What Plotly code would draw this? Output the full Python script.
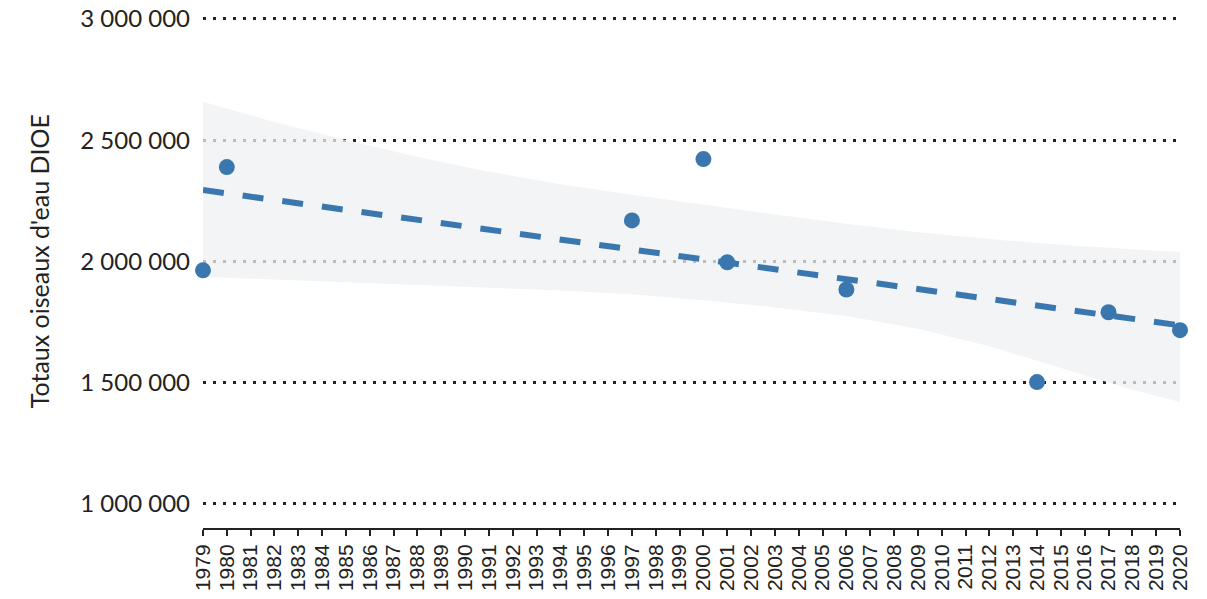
import plotly.graph_objects as go

# Observed counts (years with surveys)
obs_years = [1979, 1980, 1997, 2000, 2001, 2006, 2014, 2017, 2020]
obs_values = [1963000, 2389000, 2169000, 2422000, 1996000, 1884000, 1502000, 1790000, 1716000]

# Linear trend
trend_years = [1979, 2020]
trend_values = [2294000, 1736000]

# Confidence band
band_years = [1979, 1982, 1985, 1988, 1991, 1994, 1997, 2000, 2003, 2006, 2009, 2012, 2015, 2018, 2020]
band_upper = [2658000, 2575000, 2501000, 2430000, 2370000, 2318000, 2275000, 2233000, 2193000, 2155000, 2120000, 2092000, 2068000, 2050000, 2039000]
band_lower = [1936000, 1926000, 1915000, 1903000, 1891000, 1880000, 1864000, 1840000, 1810000, 1775000, 1722000, 1650000, 1560000, 1470000, 1420000]

# Axis ticks
x_years = list(range(1979, 2021))
y_tickvals = [1000000, 1500000, 2000000, 2500000, 3000000]
y_ticktext = ["1 000 000", "1 500 000", "2 000 000", "2 500 000", "3 000 000"]
y_title = "Totaux oiseaux d'eau DIOE"

blue = "#3a77ae"

fig = go.Figure()

fig.add_trace(go.Scatter(
    x=band_years + band_years[::-1],
    y=band_upper + band_lower[::-1],
    fill="toself",
    fillcolor="rgba(238,240,241,0.75)",
    line=dict(width=0),
    mode="lines",
    hoverinfo="skip",
    showlegend=False,
))

fig.add_trace(go.Scatter(
    x=trend_years, y=trend_values,
    mode="lines",
    line=dict(color=blue, width=6, dash="21px,19px"),
    showlegend=False,
))

fig.add_trace(go.Scatter(
    x=obs_years, y=obs_values,
    mode="markers",
    marker=dict(color=blue, size=16),
    cliponaxis=False,
    showlegend=False,
))

fig.update_layout(
    width=1207, height=599,
    margin=dict(l=203, r=27, t=17, b=71),
    plot_bgcolor="white",
    paper_bgcolor="white",
    font=dict(family="Lato", color="#222"),
    xaxis=dict(
        range=[1979, 2020],
        tickvals=x_years,
        ticktext=[str(y) for y in x_years],
        tickangle=-90,
        tickfont=dict(family="Liberation Sans", size=21, color="#222"),
        showgrid=False,
        zeroline=False,
        showline=True,
        linecolor="#222",
        linewidth=2,
        ticks="outside",
        ticklen=6,
        tickwidth=2,
        tickcolor="#222",
        automargin=False,
    ),
    yaxis=dict(
        range=[900000, 3008000],
        tickvals=y_tickvals,
        ticktext=y_ticktext,
        tickfont=dict(family="Lato", size=24, color="#222"),
        showgrid=True,
        gridcolor="#222",
        gridwidth=2.5,
        griddash="2.5px,7.5px",
        zeroline=False,
        showline=False,
        ticks="",
        ticklabelstandoff=12,
        automargin=False,
    ),
    annotations=[dict(
        text=y_title,
        xref="paper", yref="y",
        x=-0.168, y=2000000,
        textangle=-90,
        showarrow=False,
        font=dict(family="Lato", size=25, color="#222"),
        xanchor="center", yanchor="middle",
    )],
)

fig.write_html(
    "out.html",
    config={"displayModeBar": False},
    post_script="document.body.style.margin='0';",
)
